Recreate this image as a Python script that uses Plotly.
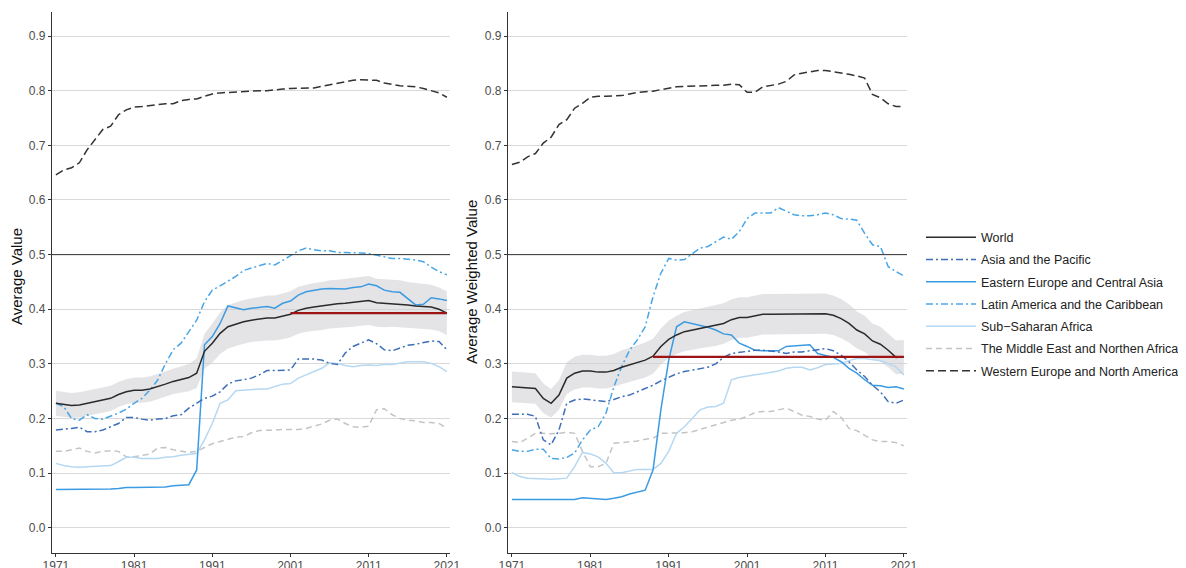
import plotly.graph_objects as go

years = list(range(1971, 2022))

# ---------------- Left panel: Average Value ----------------
L_world = [0.228,0.226,0.224,0.225,0.228,0.230,0.233,0.237,0.244,0.249,0.252,0.252,0.254,0.258,0.263,0.268,0.272,0.275,0.283,0.323,
           0.338,0.356,0.368,0.373,0.377,0.380,0.382,0.384,0.384,0.387,0.391,0.398,0.402,0.404,0.406,0.409,0.410,0.411,0.413,0.415,
           0.416,0.412,0.411,0.411,0.410,0.408,0.406,0.405,0.404,0.400,0.393]
L_world_hw = [0.023,0.023,0.023,0.023,0.023,0.023,0.023,0.023,0.023,0.023,0.023,0.023,0.023,0.023,0.023,0.023,0.024,0.025,0.027,0.032,
              0.036,0.038,0.040,0.040,0.040,0.040,0.040,0.041,0.041,0.042,0.042,0.043,0.043,0.044,0.044,0.044,0.044,0.045,0.045,0.045,
              0.045,0.044,0.044,0.043,0.043,0.042,0.042,0.041,0.041,0.040,0.040]
L_asia = [0.179,0.180,0.182,0.184,0.176,0.176,0.179,0.185,0.191,0.202,0.202,0.199,0.197,0.199,0.200,0.205,0.207,0.219,0.228,0.237,
          0.241,0.249,0.263,0.269,0.271,0.274,0.280,0.288,0.288,0.288,0.289,0.309,0.309,0.309,0.307,0.301,0.299,0.320,0.332,0.338,
          0.344,0.337,0.326,0.324,0.329,0.334,0.336,0.339,0.342,0.341,0.326]
L_eeca = [0.070,0.070,0.070,0.070,0.071,0.071,0.071,0.071,0.072,0.074,0.074,0.074,0.074,0.074,0.075,0.077,0.078,0.079,0.106,0.335,
          0.350,0.374,0.406,0.402,0.399,0.402,0.403,0.405,0.402,0.411,0.415,0.426,0.432,0.435,0.437,0.438,0.438,0.437,0.440,0.441,
          0.446,0.443,0.435,0.432,0.431,0.420,0.408,0.409,0.421,0.419,0.416]
L_lac = [0.228,0.222,0.200,0.197,0.207,0.200,0.199,0.204,0.210,0.217,0.228,0.237,0.252,0.270,0.300,0.326,0.338,0.359,0.380,0.414,
         0.435,0.443,0.451,0.460,0.471,0.475,0.479,0.484,0.481,0.489,0.498,0.507,0.512,0.509,0.507,0.507,0.504,0.504,0.504,0.503,
         0.502,0.499,0.495,0.493,0.493,0.492,0.490,0.487,0.477,0.469,0.463]
L_ssa = [0.118,0.114,0.112,0.111,0.112,0.113,0.114,0.114,0.121,0.129,0.129,0.127,0.127,0.127,0.129,0.130,0.133,0.135,0.136,0.161,
         0.191,0.228,0.234,0.251,0.252,0.254,0.254,0.254,0.258,0.263,0.264,0.274,0.280,0.286,0.292,0.302,0.301,0.297,0.295,0.297,
         0.298,0.297,0.299,0.299,0.302,0.304,0.304,0.304,0.301,0.295,0.286]
L_mena = [0.140,0.140,0.143,0.146,0.140,0.137,0.140,0.141,0.140,0.130,0.130,0.132,0.135,0.146,0.147,0.143,0.140,0.138,0.140,0.147,
          0.154,0.158,0.162,0.166,0.167,0.174,0.178,0.178,0.179,0.180,0.180,0.180,0.182,0.186,0.190,0.197,0.199,0.191,0.185,0.184,
          0.186,0.216,0.218,0.207,0.200,0.197,0.196,0.193,0.193,0.191,0.182]
L_wena = [0.646,0.655,0.659,0.668,0.692,0.710,0.729,0.735,0.756,0.765,0.770,0.771,0.773,0.774,0.776,0.776,0.782,0.784,0.785,0.790,
          0.794,0.796,0.797,0.797,0.798,0.799,0.800,0.800,0.802,0.803,0.804,0.804,0.804,0.805,0.808,0.811,0.814,0.817,0.819,0.820,
          0.820,0.819,0.814,0.811,0.809,0.808,0.807,0.804,0.800,0.796,0.788]
L_ref_start = 2001

# ---------------- Right panel: Average Weighted Value ----------------
R_world = [0.258,0.257,0.257,0.255,0.237,0.228,0.243,0.274,0.283,0.287,0.287,0.285,0.285,0.288,0.294,0.298,0.303,0.307,0.314,0.332,
           0.345,0.353,0.359,0.362,0.365,0.368,0.370,0.374,0.381,0.385,0.385,0.388,0.391,0.391,0.391,0.391,0.391,0.391,0.391,0.392,
           0.392,0.389,0.383,0.374,0.362,0.355,0.342,0.336,0.325,0.312,0.313]
R_world_hw = [0.028,0.028,0.028,0.028,0.027,0.026,0.027,0.029,0.030,0.030,0.030,0.030,0.030,0.030,0.031,0.031,0.031,0.032,0.032,0.033,
              0.034,0.035,0.036,0.036,0.036,0.037,0.037,0.037,0.037,0.037,0.037,0.037,0.037,0.037,0.037,0.037,0.037,0.037,0.037,0.037,
              0.037,0.036,0.036,0.035,0.034,0.033,0.032,0.032,0.031,0.031,0.031]
R_asia = [0.208,0.208,0.208,0.204,0.161,0.152,0.179,0.228,0.234,0.236,0.234,0.232,0.231,0.235,0.240,0.243,0.249,0.255,0.261,0.269,
          0.275,0.282,0.286,0.289,0.291,0.294,0.300,0.312,0.319,0.321,0.322,0.325,0.325,0.324,0.322,0.319,0.322,0.322,0.324,0.327,
          0.328,0.324,0.316,0.304,0.289,0.277,0.261,0.249,0.231,0.228,0.234]
R_eeca = [0.052,0.052,0.052,0.052,0.052,0.052,0.052,0.052,0.052,0.055,0.054,0.052,0.052,0.054,0.057,0.062,0.066,0.069,0.106,0.216,
          0.307,0.368,0.377,0.374,0.371,0.367,0.362,0.355,0.353,0.338,0.332,0.325,0.324,0.324,0.324,0.332,0.333,0.333,0.335,0.319,
          0.316,0.312,0.304,0.292,0.283,0.271,0.261,0.260,0.257,0.258,0.254]
R_lac = [0.143,0.140,0.140,0.144,0.144,0.127,0.126,0.129,0.137,0.161,0.179,0.185,0.210,0.258,0.295,0.325,0.344,0.368,0.423,0.466,
         0.493,0.490,0.491,0.502,0.512,0.515,0.524,0.532,0.528,0.542,0.566,0.576,0.576,0.576,0.586,0.580,0.573,0.571,0.571,0.573,
         0.576,0.573,0.566,0.565,0.563,0.539,0.518,0.515,0.478,0.469,0.461]
R_ssa = [0.101,0.094,0.091,0.090,0.089,0.089,0.090,0.091,0.112,0.138,0.135,0.130,0.118,0.101,0.101,0.104,0.107,0.107,0.107,0.118,
         0.140,0.173,0.185,0.200,0.216,0.221,0.222,0.228,0.271,0.275,0.278,0.280,0.282,0.284,0.287,0.292,0.294,0.294,0.289,0.293,
         0.299,0.300,0.301,0.306,0.310,0.310,0.308,0.306,0.301,0.294,0.280]
R_mena = [0.158,0.156,0.164,0.173,0.173,0.172,0.173,0.175,0.173,0.140,0.112,0.112,0.118,0.155,0.156,0.157,0.159,0.162,0.164,0.173,
          0.173,0.173,0.174,0.176,0.180,0.185,0.188,0.193,0.197,0.199,0.204,0.211,0.213,0.213,0.216,0.219,0.213,0.206,0.204,0.199,
          0.197,0.213,0.202,0.182,0.178,0.170,0.161,0.158,0.158,0.156,0.150]
R_wena = [0.665,0.669,0.679,0.685,0.704,0.715,0.738,0.747,0.768,0.777,0.788,0.790,0.790,0.790,0.791,0.794,0.797,0.798,0.799,0.802,
          0.805,0.807,0.808,0.808,0.808,0.809,0.810,0.810,0.812,0.811,0.797,0.797,0.807,0.809,0.812,0.817,0.829,0.832,0.835,0.837,
          0.837,0.835,0.832,0.830,0.827,0.823,0.793,0.787,0.776,0.771,0.771]
R_ref_start = 1989

series_names = ["World", "Asia and the Pacific", "Eastern Europe and Central Asia",
                "Latin America and the Caribbean", "Sub\u2212Saharan Africa",
                "The Middle East and Northen Africa", "Western Europe and North America"]
x_ticks = [1971, 1981, 1991, 2001, 2011, 2021]
y_ticks = [0.0, 0.1, 0.2, 0.3, 0.4, 0.5, 0.6, 0.7, 0.8, 0.9]

styles = [
    dict(color="#2a2a2a", width=1.5, dash="solid"),
    dict(color="#3d6eb8", width=1.5, dash="7px,3px,2px,3px"),
    dict(color="#3b9be2", width=1.5, dash="solid"),
    dict(color="#49a6e6", width=1.5, dash="7px,3px,2px,3px"),
    dict(color="#b5d8f3", width=1.5, dash="solid"),
    dict(color="#c4c4c4", width=1.5, dash="6px,4px"),
    dict(color="#333333", width=1.5, dash="8px,4px"),
]

fig = go.Figure()

def add_panel(xa, ya, world, hw, others, ref_start, show):
    lo = [w - h for w, h in zip(world, hw)]
    hi = [w + h for w, h in zip(world, hw)]
    fig.add_trace(go.Scatter(x=years, y=lo, mode="lines", line=dict(width=0, color="rgba(0,0,0,0)"),
                             showlegend=False, hoverinfo="skip", xaxis=xa, yaxis=ya))
    fig.add_trace(go.Scatter(x=years, y=hi, mode="lines", line=dict(width=0, color="rgba(0,0,0,0)"),
                             fill="tonexty", fillcolor="rgba(205,205,210,0.55)",
                             showlegend=False, hoverinfo="skip", xaxis=xa, yaxis=ya))
    all_series = [world] + others
    order = [6, 5, 4, 3, 2, 1, 0]
    for i in order:
        fig.add_trace(go.Scatter(x=years, y=all_series[i], mode="lines", name=series_names[i],
                                 line=styles[i], showlegend=show, legendgroup=series_names[i],
                                 legendrank=i + 1, xaxis=xa, yaxis=ya))
    ref_years = [y for y in years if y >= ref_start]
    fig.add_trace(go.Scatter(x=ref_years, y=[world[-1]] * len(ref_years), mode="lines",
                             line=dict(color="#9c1414", width=2.2), showlegend=False,
                             hoverinfo="skip", xaxis=xa, yaxis=ya))

add_panel("x", "y", L_world, L_world_hw, [L_asia, L_eeca, L_lac, L_ssa, L_mena, L_wena], L_ref_start, True)
add_panel("x2", "y2", R_world, R_world_hw, [R_asia, R_eeca, R_lac, R_ssa, R_mena, R_wena], R_ref_start, False)

# the page body adds an 8px offset; work in page pixels and subtract it
OFF = 8
W, H = 1186 - OFF, 568 - OFF
def px(x):
    return (x - OFF) / W
def py(y):
    return 1 - (y - OFF) / H

xdom1 = [px(52), px(450)]
xdom2 = [px(508), px(907)]
ydom = [py(553), py(12)]

FONT = "Liberation Sans, Arial, sans-serif"
tickfont = dict(family=FONT, size=12, color="#4d4d4d")
xa_common = dict(range=[1970.5, 2021.4], tickvals=x_ticks, showgrid=False, zeroline=False,
                 showline=True, linecolor="#333333", linewidth=1.2, ticks="outside", ticklen=3,
                 tickcolor="#333333", tickfont=tickfont, fixedrange=True, automargin=False,
                 ticklabelstandoff=-2)
ya_common = dict(range=[-0.046, 0.944], tickvals=y_ticks, tickformat=".1f", showgrid=True,
                 gridcolor="#d9d9d9", gridwidth=1, zeroline=False, showline=True, linecolor="#333333",
                 linewidth=1.2, ticks="outside", ticklen=3, tickcolor="#333333", tickfont=tickfont,
                 fixedrange=True, automargin=False)

fig.update_layout(
    width=W, height=H,
    margin=dict(l=0, r=0, t=0, b=0, autoexpand=False),
    paper_bgcolor="white", plot_bgcolor="white",
    font=dict(family=FONT, color="#222222"),
    xaxis=dict(domain=xdom1, anchor="y", **xa_common),
    yaxis=dict(domain=ydom, anchor="x", **ya_common),
    xaxis2=dict(domain=xdom2, anchor="y2", **xa_common),
    yaxis2=dict(domain=ydom, anchor="x2", **ya_common),
    legend=dict(x=px(921), y=py(304), xanchor="left", yanchor="middle",
                font=dict(family=FONT, size=12.5, color="#222222"),
                traceorder="grouped", tracegroupgap=3, itemwidth=50, bgcolor="rgba(0,0,0,0)"),
    showlegend=True,
)

for xr, yr in [("x domain", "y"), ("x2 domain", "y2")]:
    fig.add_shape(type="line", xref=xr, yref=yr, x0=0, x1=1, y0=0.5, y1=0.5,
                  line=dict(color="#333333", width=1), layer="above")

fig.add_annotation(text="Average Value", x=px(16), y=py(277), xref="paper", yref="paper",
                   xanchor="center", yanchor="middle",
                   textangle=-90, showarrow=False, font=dict(family=FONT, size=15, color="#111111"))
fig.add_annotation(text="Average Weighted Value", x=px(471), y=py(282), xref="paper", yref="paper",
                   xanchor="center", yanchor="middle",
                   textangle=-90, showarrow=False, font=dict(family=FONT, size=15, color="#111111"))

fig.write_html("out.html")
